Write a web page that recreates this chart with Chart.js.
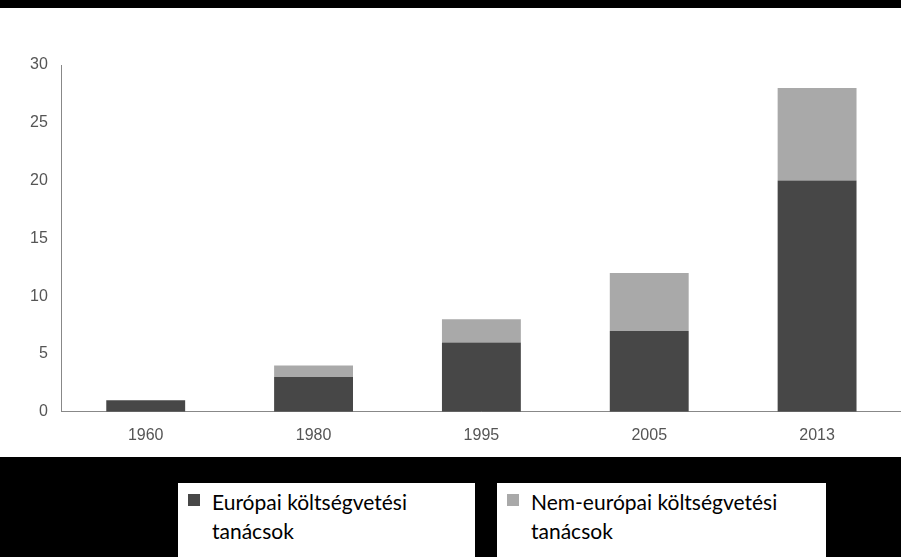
<!DOCTYPE html>
<html><head><meta charset="utf-8">
<script src="https://cdn.jsdelivr.net/npm/chart.js@4/dist/chart.umd.min.js"></script>
<style>
body{margin:0;background:#000;width:901px;height:557px;overflow:hidden;position:relative;font-family:Lato,"Open Sans",sans-serif}
#wrap{position:absolute;left:0;top:8px;width:901px;height:449px;background:#fff}
.lg{position:absolute;background:#fff;color:#000;font-size:21px;line-height:29px;padding:4px 8px 0 34px;box-sizing:border-box}
.lg i{position:absolute;left:10px;top:11px;width:12px;height:12px}
</style></head><body>
<div id="wrap"><canvas id="c" width="901" height="449"></canvas></div>
<div class="lg" style="left:178px;top:483px;width:297px;height:74px"><i style="background:#474747"></i>Európai költségvetési<br>tanácsok</div>
<div class="lg" style="left:497px;top:483px;width:329px;height:74px"><i style="background:#a9a9a9"></i>Nem-európai költségvetési<br>tanácsok</div>
<script>
const evek = ['1960','1980','1995','2005','2013']
const europai = [1, 3, 6, 7, 20]
const nemEuropai = [0, 1, 2, 5, 8]
const yTicks = [0, 5, 10, 15, 20, 25, 30]

const context = document.getElementById('c').getContext('2d')
const tickFont = { family: 'Liberation Sans, Arial', size: 16 }

new Chart(context, {
    type: 'bar',
    data: {
        labels: evek,
        datasets: [
            { label: 'Európai költségvetési tanácsok', data: europai, backgroundColor: '#474747' },
            { label: 'Nem-európai költségvetési tanácsok', data: nemEuropai, backgroundColor: '#a9a9a9' }
        ]
    },
    options: {
        responsive: false,
        animation: false,
        layout: { padding: { top: 57, right: 0, left: 22, bottom: 6 } },
        plugins: { legend: { display: false }, tooltip: { enabled: false } },
        datasets: { bar: { categoryPercentage: 1, barPercentage: 0.47 } },
        scales: {
            x: {
                stacked: true,
                grid: { display: false, drawTicks: true },
                border: { color: '#888' },
                ticks: { color: '#555', font: tickFont, padding: 6 }
            },
            y: {
                stacked: true, min: 0, max: 30,
                afterBuildTicks: axis => { axis.ticks = yTicks.map(v => ({ value: v })) },
                grid: { display: false, drawTicks: true, tickLength: 6 },
                border: { color: '#888' },
                ticks: { color: '#555', font: tickFont, padding: 8 }
            }
        }
    }
})
</script>
</body></html>
